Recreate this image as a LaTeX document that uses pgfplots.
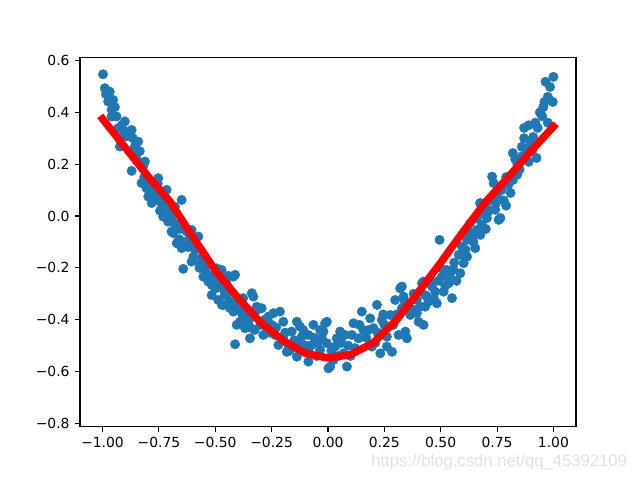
\documentclass[border=0pt]{standalone}
\usepackage{pgfplots}
\pgfplotsset{compat=1.18}
\usepackage{fontspec}
\setmainfont{DejaVu Sans}
\newfontfamily\wmfont{Liberation Sans}
\definecolor{c0}{HTML}{1F77B4}
\begin{document}
\begin{tikzpicture}
\path[use as bounding box] (0,0) rectangle (460.8pt,345.6pt);
\begin{axis}[
  at={(57.6pt,38.2pt)}, anchor=south west,
  scale only axis, width=357.1pt, height=265.7pt,
  xmin=-1.1, xmax=1.1, ymin=-0.814, ymax=0.61,
  clip marker paths=true,
  xtick={-1,-0.75,-0.5,-0.25,0,0.25,0.5,0.75,1},
  xticklabels={−1.00,−0.75,−0.50,−0.25,0.00,0.25,0.50,0.75,1.00},
  ytick={-0.8,-0.6,-0.4,-0.2,0,0.2,0.4,0.6},
  yticklabels={−0.8,−0.6,−0.4,−0.2,0.0,0.2,0.4,0.6},
  tick align=outside, xtick pos=bottom, ytick pos=left,
  major tick length=3.5pt,
  tick style={black, line width=0.8pt},
  axis line style={line width=0.8pt},
  tick label style={font=\fontsize{10}{12}\selectfont, text=black},
  xticklabel style={yshift=-0.5pt},
  yticklabel style={xshift=-0.5pt},
]
\addplot[only marks, mark=*, mark size=3.4pt, mark options={draw=c0, fill=c0, line width=0.3pt}] coordinates {
(-0.998,0.547) (-0.990,0.493) (-0.968,0.480) (-0.975,0.442) (-0.953,0.448)
(-0.960,0.410) (-0.960,0.384) (-0.938,0.384) (-0.901,0.365) (-0.931,0.339)
(-0.871,0.332) (-0.893,0.307) (-0.842,0.287) (-0.923,0.268) (-0.857,0.268)
(-0.849,0.242) (-0.871,0.174) (-0.820,0.190) (-0.827,0.127) (-0.805,0.107)
(-0.790,0.094) (-0.797,0.075) (-0.753,0.146) (-0.775,0.062) (-0.731,0.036)
(-0.745,0.088) (-0.716,0.101) (-0.649,0.062) (-0.731,-0.002) (-0.709,-0.022)
(-0.686,-0.066) (-0.605,-0.054) (-0.575,-0.079) (-0.679,0.036)
(-0.985,0.470) (-0.945,0.420) (-0.915,0.350) (-0.880,0.320) (-0.865,0.300)
(-0.835,0.250) (-0.812,0.210) (-0.785,0.120) (-0.765,0.105) (-0.760,0.075)
(-0.740,0.050) (-0.720,0.070) (-0.700,0.020) (-0.695,-0.010) (-0.770,0.090)
(-0.755,0.125)
(-0.775,0.100) (-0.760,0.062) (-0.782,0.050) (-0.732,0.081) (-0.723,-0.002)
(-0.694,-0.060) (-0.627,-0.060) (-0.671,-0.105) (-0.649,-0.124) (-0.620,-0.120)
(-0.597,-0.157) (-0.605,-0.176) (-0.642,-0.204) (-0.568,-0.185) (-0.553,-0.234)
(-0.494,-0.202) (-0.531,-0.253) (-0.516,-0.266) (-0.471,-0.247) (-0.420,-0.234)
(-0.442,-0.231) (-0.516,-0.305) (-0.487,-0.324) (-0.471,-0.343) (-0.435,-0.330)
(-0.376,-0.317) (-0.331,-0.311) (-0.316,-0.350) (-0.435,-0.355)
(-0.660,-0.090) (-0.640,-0.100) (-0.590,-0.130) (-0.560,-0.160) (-0.545,-0.210)
(-0.525,-0.230) (-0.500,-0.280) (-0.460,-0.290)
(-0.472,-0.208) (-0.412,-0.227) (-0.450,-0.260) (-0.457,-0.305) (-0.464,-0.343)
(-0.420,-0.369) (-0.405,-0.337) (-0.338,-0.298) (-0.390,-0.408) (-0.405,-0.420)
(-0.368,-0.433) (-0.412,-0.495) (-0.346,-0.472) (-0.331,-0.388) (-0.316,-0.363)
(-0.294,-0.356) (-0.264,-0.388) (-0.242,-0.375) (-0.213,-0.369) (-0.198,-0.408)
(-0.272,-0.433) (-0.287,-0.459) (-0.235,-0.459) (-0.220,-0.498) (-0.176,-0.498)
(-0.183,-0.524) (-0.138,-0.408) (-0.124,-0.427) (-0.161,-0.446) (-0.116,-0.466)
(-0.087,-0.459) (-0.065,-0.420) (-0.072,-0.498) (-0.087,-0.517) (-0.138,-0.543)
(-0.087,-0.562) (-0.035,-0.440) (-0.013,-0.414) (-0.027,-0.472) (-0.005,-0.491)
(-0.035,-0.517) (0.002,-0.588)
(-0.380,-0.380) (-0.355,-0.410) (-0.300,-0.420) (-0.250,-0.420) (-0.200,-0.470)
(-0.150,-0.480) (-0.100,-0.500) (-0.050,-0.540) (-0.060,-0.470)
(-0.005,-0.408) (-0.020,-0.446) (0.010,-0.581) (0.084,-0.581) (0.054,-0.446)
(0.076,-0.459) (0.039,-0.472) (0.113,-0.414) (0.106,-0.459) (0.135,-0.472)
(0.157,-0.440) (0.150,-0.369) (0.187,-0.395) (0.217,-0.343) (0.202,-0.433)
(0.195,-0.504) (0.239,-0.401) (0.232,-0.530) (0.261,-0.504) (0.284,-0.524)
(0.261,-0.466) (0.276,-0.382) (0.298,-0.324) (0.320,-0.279) (0.328,-0.356)
(0.313,-0.459) (0.350,-0.472) (0.343,-0.446) (0.365,-0.382) (0.387,-0.363)
(0.402,-0.408) (0.424,-0.420) (0.394,-0.324) (0.417,-0.260) (0.439,-0.311)
(0.431,-0.350) (0.024,-0.556) (0.069,-0.530) (0.032,-0.504)
(0.090,-0.500) (0.120,-0.510) (0.170,-0.470) (0.220,-0.450) (0.250,-0.420)
(0.328,-0.272) (0.335,-0.311) (0.370,-0.360) (0.394,-0.375) (0.424,-0.253)
(0.431,-0.305) (0.446,-0.330) (0.483,-0.337) (0.476,-0.292) (0.461,-0.272)
(0.513,-0.292) (0.550,-0.317) (0.535,-0.260) (0.506,-0.234) (0.528,-0.208)
(0.557,-0.208) (0.587,-0.221) (0.602,-0.182) (0.617,-0.157) (0.580,-0.150)
(0.594,-0.118) (0.653,-0.124) (0.617,-0.092) (0.639,-0.080) (0.676,-0.073)
(0.661,-0.054) (0.683,-0.034) (0.631,-0.028) (0.705,-0.008) (0.676,0.049)
(0.713,0.024) (0.757,-0.015) (0.742,0.024) (0.728,0.152) (0.735,0.127)
(0.750,0.081) (0.495,-0.092)
(0.490,-0.250) (0.520,-0.270) (0.560,-0.180) (0.570,-0.250) (0.610,-0.130)
(0.645,-0.100) (0.690,0.010)
(1.000,0.537) (0.965,0.518) (0.985,0.498) (0.975,0.460) (0.997,0.440)
(0.940,0.400) (0.950,0.385) (0.975,0.360) (0.870,0.340) (0.890,0.350)
(0.930,0.340) (0.910,0.305) (0.820,0.243) (0.860,0.267) (0.925,0.224)
(0.890,0.209) (0.790,0.150) (0.820,0.139) (0.810,0.089) (0.675,0.050)
(0.710,0.016) (0.765,-0.008)
(0.770,0.100) (0.800,0.120) (0.840,0.200) (0.850,0.180) (0.880,0.260)
(0.900,0.280) (0.955,0.420) (0.780,0.060) (0.840,0.160)
(-0.925,0.300) (-0.905,0.330) (-0.850,0.220) (-0.815,0.150) (-0.800,0.130)
(-0.745,0.020) (-0.715,0.040) (-0.680,-0.030) (-0.655,-0.050) (-0.615,-0.090)
(-0.585,-0.110) (-0.570,-0.200) (-0.540,-0.180) (-0.505,-0.240) (-0.480,-0.270)
(-0.445,-0.300) (-0.395,-0.360) (-0.360,-0.390) (-0.345,-0.430) (-0.325,-0.440)
(-0.280,-0.400) (-0.260,-0.450) (-0.230,-0.430) (-0.190,-0.450) (-0.170,-0.520)
(-0.130,-0.490) (-0.110,-0.440) (-0.045,-0.490) (0.015,-0.520) (0.045,-0.540)
(0.060,-0.490) (0.100,-0.540) (0.140,-0.420) (0.180,-0.440) (0.210,-0.490)
(0.245,-0.380) (0.290,-0.420) (0.305,-0.380) (0.340,-0.330) (0.380,-0.300)
(0.410,-0.350) (0.455,-0.250) (0.470,-0.320) (0.500,-0.200) (0.540,-0.230)
(0.600,-0.150) (0.625,-0.060) (0.660,-0.010) (0.700,-0.050) (0.720,0.060)
(0.745,0.050) (0.790,0.040) (0.830,0.220) (0.860,0.230) (0.870,0.300)
(0.920,0.360) (0.960,0.440) (0.905,0.250)
};
\addplot[red, line width=5.4bp, line cap=rect, line join=round] coordinates {
(-1.0,0.375) (-0.9,0.265) (-0.8,0.155) (-0.7,0.055) (-0.6,-0.08)
(-0.5,-0.21) (-0.4,-0.315) (-0.3,-0.41) (-0.2,-0.48) (-0.1,-0.53)
(0.0,-0.548) (0.1,-0.535) (0.2,-0.49) (0.3,-0.405) (0.4,-0.295)
(0.5,-0.18) (0.6,-0.06) (0.7,0.055) (0.8,0.15) (0.9,0.25) (1.0,0.345)
};
\end{axis}
\node[anchor=east, text=black!12, font=\wmfont\fontsize{12}{14}\selectfont] at (455pt,13pt) {https://blog.csdn.net/qq\_45392109};
\end{tikzpicture}
\end{document}
